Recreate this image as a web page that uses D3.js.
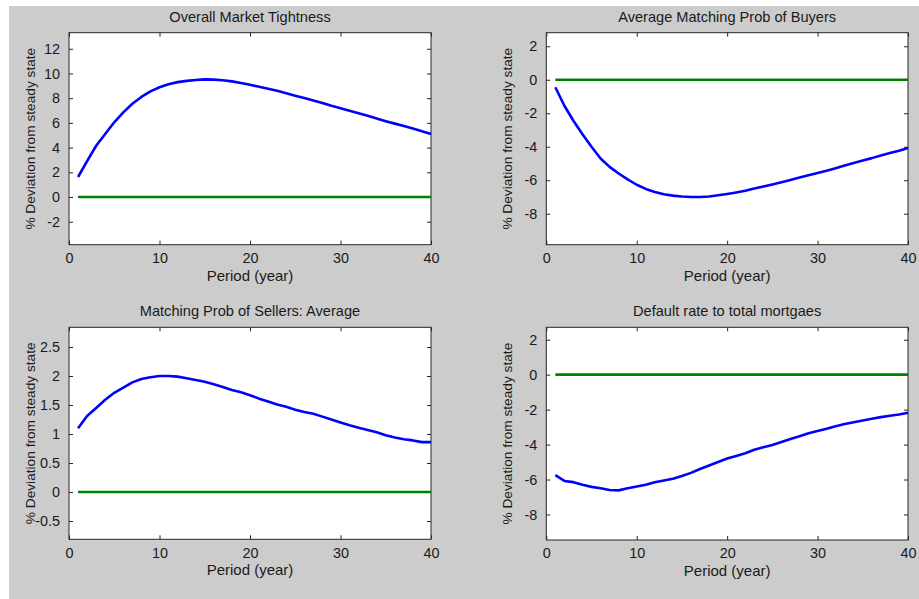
<!DOCTYPE html>
<html>
<head>
<meta charset="utf-8">
<script src="https://cdn.jsdelivr.net/npm/d3@7"></script>
<style>
  html, body { margin: 0; padding: 0; background: #ffffff; }
  svg { display: block; }
  text { font-family: Arial, "Liberation Sans", sans-serif; fill: #1a1a1a; }
</style>
</head>
<body>
<svg id="chart" width="919" height="599"></svg>
<script>
// Impulse responses, % deviation from steady state, periods 1..40
const periods = d3.range(1, 41);

const titles = [
  "Overall Market Tightness",
  "Average Matching Prob of Buyers",
  "Matching Prob of Sellers: Average",
  "Default rate to total mortgaes"
];

const tightness = [1.62, 2.9, 4.15, 5.1, 6.05, 6.85, 7.55, 8.1, 8.55, 8.88,
  9.12, 9.3, 9.4, 9.47, 9.52, 9.5, 9.45, 9.36, 9.23, 9.08,
  8.93, 8.77, 8.6, 8.4, 8.2, 8.02, 7.82, 7.6, 7.38, 7.18,
  6.99, 6.78, 6.57, 6.35, 6.14, 5.94, 5.75, 5.55, 5.33, 5.1];

const buyers = [-0.45, -1.55, -2.45, -3.25, -4.0, -4.7, -5.2, -5.6, -5.95, -6.27,
  -6.52, -6.7, -6.84, -6.92, -6.97, -7.0, -7.0, -6.97, -6.9, -6.82,
  -6.73, -6.63, -6.5, -6.38, -6.25, -6.12, -5.98, -5.84, -5.7, -5.57,
  -5.43, -5.28, -5.12, -4.97, -4.82, -4.68, -4.52, -4.38, -4.24, -4.08];

const sellers = [1.1, 1.31, 1.45, 1.59, 1.71, 1.8, 1.89, 1.95, 1.98, 2.0,
  2.0, 1.99, 1.96, 1.93, 1.9, 1.86, 1.81, 1.76, 1.72, 1.67,
  1.61, 1.56, 1.51, 1.47, 1.42, 1.38, 1.35, 1.3, 1.25, 1.2,
  1.15, 1.11, 1.07, 1.03, 0.98, 0.94, 0.91, 0.89, 0.86, 0.86];

const defaults = [-5.75, -6.08, -6.15, -6.3, -6.42, -6.5, -6.6, -6.62, -6.5, -6.4,
  -6.3, -6.16, -6.05, -5.95, -5.8, -5.62, -5.4, -5.2, -5.0, -4.8,
  -4.65, -4.5, -4.3, -4.15, -4.03, -3.85, -3.68, -3.52, -3.35, -3.22,
  -3.1, -2.95, -2.82, -2.72, -2.62, -2.52, -2.43, -2.35, -2.28, -2.18];

const steadyState = periods.map(() => 0);

const xDomain = [0, 40];
const xTicks = [0, 10, 20, 30, 40];

const yDomains = [[-3.86, 13.3], [-9.85, 2.81], [-0.815, 2.84], [-9.46, 2.71]];
const yTicks = [
  [-2, 0, 2, 4, 6, 8, 10, 12],
  [-8, -6, -4, -2, 0, 2],
  [-0.5, 0, 0.5, 1, 1.5, 2, 2.5],
  [-8, -6, -4, -2, 0, 2]
];

const seriesList = [tightness, buyers, sellers, defaults];

const xLabel = "Period (year)";
const yLabel = "% Deviation from steady state";

// Panel frames (plot area boxes in pixels)
const frames = [
  { x0: 69,    x1: 431, y0: 32.7,  y1: 244.7 },
  { x0: 546.3, x1: 908, y0: 32.7,  y1: 244.7 },
  { x0: 69,    x1: 431, y0: 327.3, y1: 539.3 },
  { x0: 546.3, x1: 908, y0: 327.3, y1: 540 }
];

const svg = d3.select("#chart");

// figure background
svg.append("rect")
  .attr("x", 9).attr("y", 6)
  .attr("width", 919 - 9).attr("height", 599 - 6)
  .attr("fill", "#cccccc");

const tickLen = 4;
const tickFont = 14.4;
const titleFont = 14.6;
const xLabelFont = 15;
const yLabelFont = 13.7;

frames.forEach((f, i) => {
  const x = d3.scaleLinear().domain(xDomain).range([f.x0, f.x1]);
  const y = d3.scaleLinear().domain(yDomains[i]).range([f.y1, f.y0]);
  const g = svg.append("g");

  // plot area
  g.append("rect")
    .attr("x", f.x0).attr("y", f.y0)
    .attr("width", f.x1 - f.x0).attr("height", f.y1 - f.y0)
    .attr("fill", "#ffffff");

  const fmt = d => String(d);

  // axes with inward ticks on all four sides
  const axB = g.append("g").attr("transform", `translate(0,${f.y1})`)
    .call(d3.axisBottom(x).tickValues(xTicks).tickSizeInner(-tickLen).tickSizeOuter(0).tickPadding(8).tickFormat(fmt));
  const axT = g.append("g").attr("transform", `translate(0,${f.y0})`)
    .call(d3.axisTop(x).tickValues(xTicks).tickSizeInner(-tickLen).tickSizeOuter(0).tickFormat(""));
  const axL = g.append("g").attr("transform", `translate(${f.x0},0)`)
    .call(d3.axisLeft(y).tickValues(yTicks[i]).tickSizeInner(-tickLen).tickSizeOuter(0).tickPadding(9).tickFormat(fmt));
  const axR = g.append("g").attr("transform", `translate(${f.x1},0)`)
    .call(d3.axisRight(y).tickValues(yTicks[i]).tickSizeInner(-tickLen).tickSizeOuter(0).tickFormat(""));

  [axB, axT, axL, axR].forEach(a => {
    a.select(".domain").remove();
    a.selectAll("line").attr("stroke", "#262626").attr("stroke-width", 1);
    a.selectAll("text")
      .attr("font-size", tickFont)
      .attr("font-family", "Arial, 'Liberation Sans', sans-serif")
      .attr("fill", "#1a1a1a");
  });

  // box
  g.append("rect")
    .attr("x", f.x0).attr("y", f.y0)
    .attr("width", f.x1 - f.x0).attr("height", f.y1 - f.y0)
    .attr("fill", "none")
    .attr("stroke", "#262626")
    .attr("stroke-width", 1);

  const line = d3.line().x((d, j) => x(periods[j])).y(d => y(d));

  g.append("path")
    .datum(steadyState)
    .attr("d", line)
    .attr("fill", "none")
    .attr("stroke", "#008000")
    .attr("stroke-width", 2.6);

  g.append("path")
    .datum(seriesList[i])
    .attr("d", line)
    .attr("fill", "none")
    .attr("stroke", "#0000ff")
    .attr("stroke-width", 2.6)
    .attr("stroke-linejoin", "round");

  const cx = (f.x0 + f.x1) / 2;
  const cy = (f.y0 + f.y1) / 2;

  // title
  g.append("text")
    .attr("x", cx).attr("y", f.y0 - 11)
    .attr("text-anchor", "middle")
    .attr("font-size", titleFont)
    .text(titles[i]);

  // x label
  g.append("text")
    .attr("x", cx).attr("y", f.y1 + 36)
    .attr("text-anchor", "middle")
    .attr("font-size", xLabelFont)
    .text(xLabel);

  // y label
  g.append("text")
    .attr("transform", `translate(${f.x0 - 34.5},${cy}) rotate(-90)`)
    .attr("text-anchor", "middle")
    .attr("font-size", yLabelFont)
    .text(yLabel);
});
</script>
</body>
</html>
